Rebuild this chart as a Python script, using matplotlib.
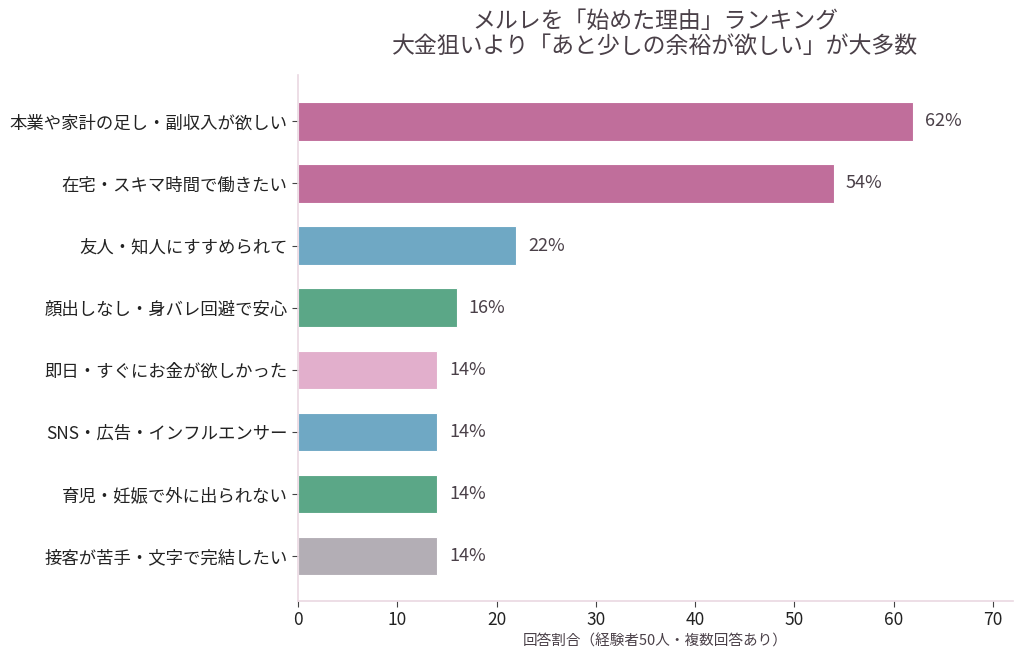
import matplotlib
matplotlib.use("Agg")
import matplotlib.pyplot as plt
import numpy as np

plt.rcParams['font.family'] = ['Noto Sans CJK JP', 'DejaVu Sans']

# データ
reasons = ['本業や家計の足し・副収入が欲しい', '在宅・スキマ時間で働きたい', '友人・知人にすすめられて',
           '顔出しなし・身バレ回避で安心', '即日・すぐにお金が欲しかった', 'SNS・広告・インフルエンサー',
           '育児・妊娠で外に出られない', '接客が苦手・文字で完結したい']
percent = [62, 54, 22, 16, 14, 14, 14, 14]
colors = ['#C06E9B', '#C06E9B', '#6FA8C4', '#5BA787', '#E2AFCC', '#6FA8C4', '#5BA787', '#B3AEB5']
xticks = [0, 10, 20, 30, 40, 50, 60, 70]

text_col = '#4A4048'
spine_col = '#EAD8E2'

fig = plt.figure(figsize=(10.24, 6.61), dpi=100)
ax = fig.add_axes([0.291, 0.091, 0.698, 0.795])

y = np.arange(len(reasons))
ax.barh(y, percent, height=0.62, color=colors, edgecolor='white', linewidth=0.8)

for i, v in enumerate(percent):
    ax.text(v + 1.2, i, f'{v}%', va='center', ha='left', fontsize=13, color=text_col)

ax.set_yticks(y)
ax.set_yticklabels(reasons, fontsize=12.5, color='#222222')
ax.set_xticks(xticks)
ax.set_xticklabels([str(t) for t in xticks], fontsize=12.5, color='#222222')
ax.set_xlim(0, 72)
ax.set_ylim(len(reasons) - 0.28, -0.74)

ax.set_xlabel('回答割合（経験者50人・複数回答あり）', fontsize=10.5, color=text_col, labelpad=4)
ax.set_title('メルレを「始めた理由」ランキング\n大金狙いより「あと少しの余裕が欲しい」が大多数',
             fontsize=16.5, color=text_col, pad=16, linespacing=1.1)

for s in ['top', 'right']:
    ax.spines[s].set_visible(False)
for s in ['left', 'bottom']:
    ax.spines[s].set_color(spine_col)
    ax.spines[s].set_linewidth(1.2)
ax.tick_params(axis='both', length=4, color='#444444', width=0.8)

fig.savefig('out.png', dpi=100)
